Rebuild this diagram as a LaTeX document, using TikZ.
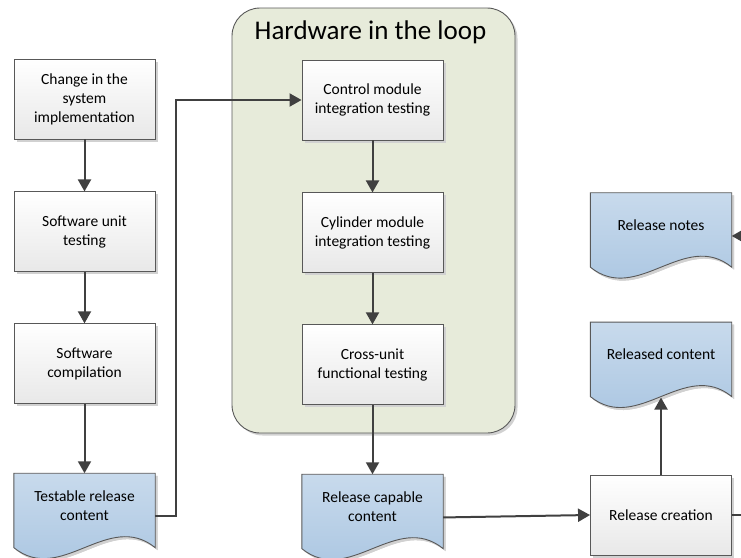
\documentclass[tikz,border=0pt]{standalone}
\usepackage{fontspec}
\setmainfont{Carlito}
\usepackage{tikz}
\usetikzlibrary{arrows.meta,positioning,shadows,backgrounds}
\definecolor{HILGreen}{RGB}{231,235,218}
\definecolor{DocTop}{RGB}{200,218,236}
\definecolor{DocBot}{RGB}{166,195,224}
\definecolor{LineGray}{RGB}{64,64,64}
\definecolor{EdgeGray}{RGB}{88,88,88}

% wavy document outline drawn behind a doc node
\newcommand{\docoutline}[1]{%
  \begin{scope}[on background layer]
    \shade[docshade] (#1.north west) -- (#1.north east) -- ([yshift=-10pt]#1.south east)
      .. controls +(-47,-38) and +(47,38) .. ([yshift=-10pt]#1.south west) -- cycle;
  \end{scope}}

\begin{document}
\begin{tikzpicture}[x=1pt,y=-1pt,
        shade/.style={drop shadow={shadow xshift=2.5pt,shadow yshift=-2.5pt,fill=black!18,opacity=1}},
        box/.style={draw=EdgeGray,line width=0.9pt,top color=white,bottom color=black!9,
                    shade,font=\fontsize{15.5}{19}\selectfont,align=center,
                    minimum width=141pt,minimum height=80pt,inner sep=2pt},
        doc/.style={font=\fontsize{15.5}{19}\selectfont,align=center,
                    minimum width=141pt,minimum height=64pt,inner sep=2pt},
        docshade/.style={draw=EdgeGray,line width=0.9pt,top color=DocTop,bottom color=DocBot,shade},
        hil/.style={draw=EdgeGray,line width=0.9pt,fill=HILGreen,rounded corners=28pt,shade,
                    minimum width=283pt,minimum height=425pt},
        title/.style={font=\fontsize{27}{32}\selectfont,inner sep=0pt},
        arr/.style={-{Triangle[width=13pt,length=12pt]},LineGray,line width=2pt}
      ]
        \useasboundingbox (0,0) rectangle (741,557);
        \node[hil] (hil) at (373.5,220.5) {};
        \node[title,below=13pt of hil.north,xshift=-3pt] (hiltitle) {Hardware in the loop};

        \node[box] (chg) at (84.5,99) {Change in the\\system\\implementation};
        \node[box,below=52pt of chg] (sut) {Software unit\\testing};
        \node[box,below=51pt of sut] (cmp) {Software\\compilation};
        \node[doc,below=69pt of cmp] (tr) {Testable release\\content};

        \node[box] (cmi) at (372.5,100) {Control module\\integration testing};
        \node[box,below=52pt of cmi] (cyl) {Cylinder module\\integration testing};
        \node[box,below=51pt of cyl] (cuf) {Cross-unit\\functional testing};
        \node[doc,below=69pt of cuf] (rcc) {Release capable\\content};

        \node[box] (rc) at (661,515) {Release creation};
        \node[doc,above=88pt of rc] (rlc) {Released content};
        \node[doc,above=65pt of rlc] (rn) {Release notes};

        \docoutline{tr}
        \docoutline{rcc}
        \docoutline{rlc}
        \docoutline{rn}

        \draw[arr] (chg)--(sut);
        \draw[arr] (sut)--(cmp);
        \draw[arr] (cmp)--(tr);
        \draw[arr] ([yshift=-11pt]tr.east) -- ++(21,0) |- (cmi.west);
        \draw[arr] (cmi)--(cyl);
        \draw[arr] (cyl)--(cuf);
        \draw[arr] (cuf)--(rcc);
        \draw[arr] ([yshift=-11pt]rcc.east) -- (rc.west);
        \draw[arr] (rc.north) -- ([yshift=-11pt]rlc.south);
        \draw[arr] (rc.east) -- ++(40,0) |- ([yshift=-11pt]rn.east);
      \end{tikzpicture}
\end{document}
